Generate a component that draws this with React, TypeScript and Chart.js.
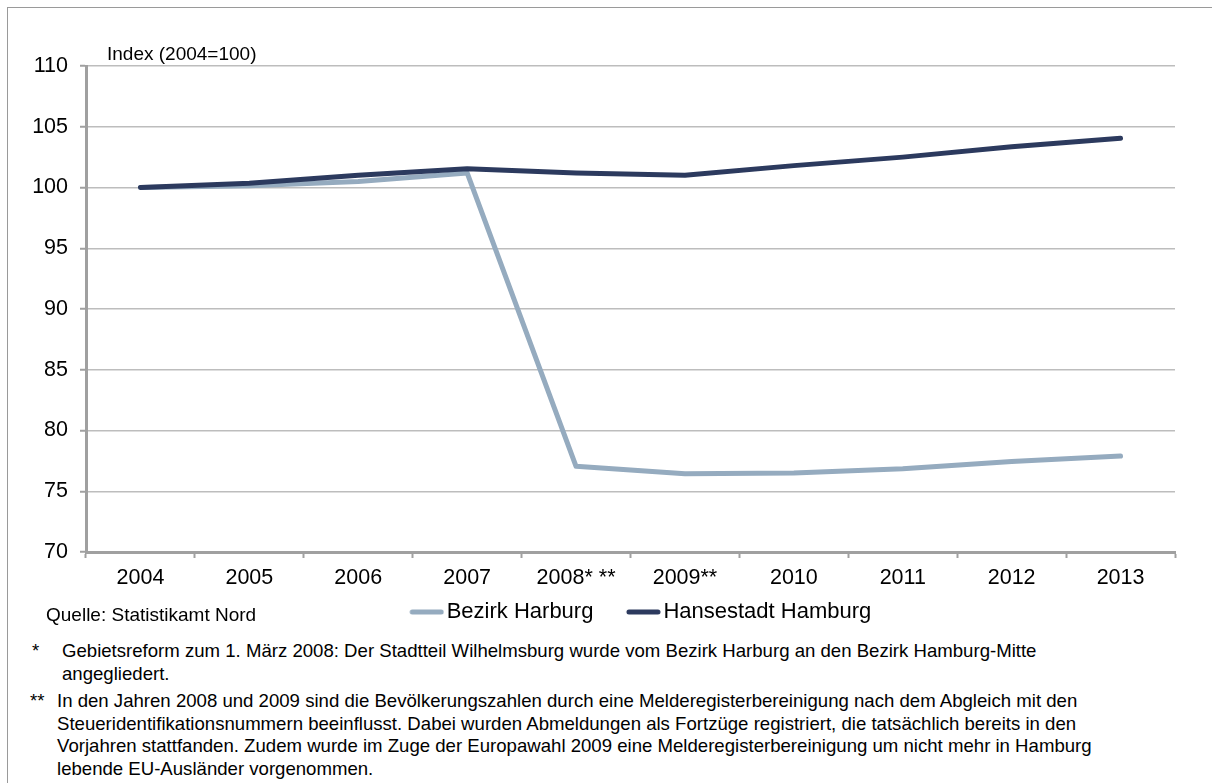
import React, { useEffect, useRef } from "react";
import { Chart, registerables } from "chart.js";

Chart.register(...registerables);

// ---- data ----
const years = ["2004", "2005", "2006", "2007", "2008* **", "2009**", "2010", "2011", "2012", "2013"];
const harburgValues = [100, 100.15, 100.5, 101.2, 77.05, 76.45, 76.5, 76.85, 77.45, 77.9];
const hamburgValues = [100, 100.35, 101.0, 101.55, 101.2, 101.0, 101.8, 102.5, 103.35, 104.05];
const seriesNames = ["Bezirk Harburg", "Hansestadt Hamburg"];
const seriesColors = ["#95abbf", "#2c3a5e"];
const yMin = 70;
const yMax = 110;
const yStep = 5;
const yAxisTitle = "Index (2004=100)";
const sourceNote = "Quelle: Statistikamt Nord";
const footnote1Mark = "*";
const footnote1Lines = [
  "Gebietsreform zum 1. März 2008: Der Stadtteil Wilhelmsburg wurde vom Bezirk Harburg an den Bezirk Hamburg-Mitte",
  "angegliedert.",
];
const footnote2Mark = "**";
const footnote2Lines = [
  "In den Jahren 2008 und 2009 sind die Bevölkerungszahlen durch eine Melderegisterbereinigung nach dem Abgleich mit den",
  "Steueridentifikationsnummern beeinflusst. Dabei wurden Abmeldungen als Fortzüge registriert, die tatsächlich bereits in den",
  "Vorjahren stattfanden. Zudem wurde im Zuge der Europawahl 2009 eine Melderegisterbereinigung um nicht mehr in Hamburg",
  "lebende EU-Ausländer vorgenommen.",
];

const FONT = "'Liberation Sans', Arial, Helvetica, sans-serif";
const AXIS_COLOR = "#a0a0a0";
const GRID_COLOR = "#bdbdbd";

function makeLineIcon(color: string): HTMLCanvasElement {
  const c = document.createElement("canvas");
  c.width = 66;
  c.height = 8;
  const ctx = c.getContext("2d")!;
  ctx.strokeStyle = color;
  ctx.lineWidth = 5;
  ctx.lineCap = "round";
  ctx.beginPath();
  ctx.moveTo(34, 4);
  ctx.lineTo(63, 4);
  ctx.stroke();
  return c;
}

export default function App() {
  const canvasRef = useRef<HTMLCanvasElement | null>(null);

  useEffect(() => {
    const canvas = canvasRef.current;
    if (!canvas) return;
    const icons = seriesColors.map((c) => makeLineIcon(c));
    const chart = new Chart(canvas, {
      type: "line",
      data: {
        labels: years,
        datasets: [
          {
            label: seriesNames[0],
            data: harburgValues,
            borderColor: seriesColors[0],
            backgroundColor: seriesColors[0],
            borderWidth: 5,
            pointRadius: 0,
            pointHoverRadius: 0,
            borderCapStyle: "round",
            borderJoinStyle: "round",
            tension: 0,
            order: 2,
            yAxisID: "y",
          },
          {
            label: seriesNames[1],
            data: hamburgValues,
            borderColor: seriesColors[1],
            backgroundColor: seriesColors[1],
            borderWidth: 5,
            pointRadius: 0,
            pointHoverRadius: 0,
            borderCapStyle: "round",
            borderJoinStyle: "round",
            tension: 0,
            order: 1,
            yAxisID: "y",
          },
        ],
      },
      options: {
        animation: false,
        responsive: false,
        maintainAspectRatio: false,
        devicePixelRatio: 1,
        events: [],
        layout: { padding: { top: 66, left: 0, right: 0, bottom: 7 } },
        plugins: {
          tooltip: { enabled: false },
          title: { display: false },
          legend: {
            display: true,
            position: "bottom",
            align: "center",
            labels: {
              usePointStyle: true,
              pointStyleWidth: 49,
              padding: 10,
              color: "#000",
              font: { family: FONT, size: 22 },
              generateLabels: (ch: any) =>
                ch.data.datasets.map((ds: any, i: number) => ({
                  text: ds.label,
                  fillStyle: ds.borderColor,
                  strokeStyle: ds.borderColor,
                  lineWidth: 0,
                  pointStyle: icons[i],
                  hidden: false,
                  datasetIndex: i,
                  fontColor: "#000",
                })),
            },
          },
        },
        scales: {
          x: {
            type: "category",
            offset: true,
            grid: {
              offset: true,
              drawOnChartArea: false,
              drawTicks: true,
              tickLength: 6,
              tickColor: AXIS_COLOR,
              tickWidth: 2,
            },
            border: { display: true, color: AXIS_COLOR, width: 3 },
            ticks: {
              color: "#000",
              font: { family: FONT, size: 21.5 },
              padding: 7,
              maxRotation: 0,
              minRotation: 0,
              autoSkip: false,
            },
            afterFit: (s: any) => {
              s.height = 39;
            },
          },
          y: {
            type: "linear",
            position: "left",
            min: yMin,
            max: yMax,
            ticks: {
              stepSize: yStep,
              color: "#000",
              font: { family: FONT, size: 21.5 },
              padding: 12,
            },
            grid: {
              color: GRID_COLOR,
              lineWidth: 1.5,
              drawTicks: true,
              tickLength: 6,
              tickColor: AXIS_COLOR,
              tickWidth: 2,
            },
            border: { display: true, color: AXIS_COLOR, width: 3 },
            afterFit: (s: any) => {
              s.width = 86;
            },
          },
          y2: {
            type: "linear",
            position: "right",
            display: true,
            grid: { display: false, drawOnChartArea: false, drawTicks: false },
            ticks: { display: false },
            border: { display: false },
            afterFit: (s: any) => {
              s.width = 83;
            },
          },
        },
      },
    } as any);
    return () => {
      chart.destroy();
    };
  }, []);

  const textBase: React.CSSProperties = {
    position: "absolute",
    fontFamily: FONT,
    color: "#000",
    whiteSpace: "nowrap",
  };

  return (
    <div
      style={{
        position: "absolute",
        left: 0,
        top: 0,
        width: 1212,
        height: 783,
        overflow: "hidden",
        background: "#fff",
      }}
    >
      <div
        style={{
          position: "absolute",
          left: 7,
          top: 7,
          width: 1300,
          height: 900,
          borderLeft: "1px solid #9a9a9a",
          borderTop: "1px solid #9a9a9a",
        }}
      />
      <canvas
        ref={canvasRef}
        width={1258}
        height={640}
        style={{ position: "absolute", left: 0, top: 0, width: 1258, height: 640 }}
      />
      <div style={{ ...textBase, left: 107, top: 44, fontSize: 19, lineHeight: "19px" }}>{yAxisTitle}</div>
      <div style={{ ...textBase, left: 46, top: 605, fontSize: 19, lineHeight: "19px" }}>{sourceNote}</div>
      <div style={{ ...textBase, left: 32, top: 640, fontSize: 18.6, lineHeight: "22.5px" }}>{footnote1Mark}</div>
      <div style={{ ...textBase, left: 62, top: 640, fontSize: 18.6, lineHeight: "22.5px" }}>
        {footnote1Lines.map((l, i) => (
          <div key={i}>{l}</div>
        ))}
      </div>
      <div style={{ ...textBase, left: 30, top: 690, fontSize: 18.6, lineHeight: "22.5px" }}>{footnote2Mark}</div>
      <div style={{ ...textBase, left: 57, top: 690, fontSize: 18.6, lineHeight: "22.5px" }}>
        {footnote2Lines.map((l, i) => (
          <div key={i}>{l}</div>
        ))}
      </div>
    </div>
  );
}
